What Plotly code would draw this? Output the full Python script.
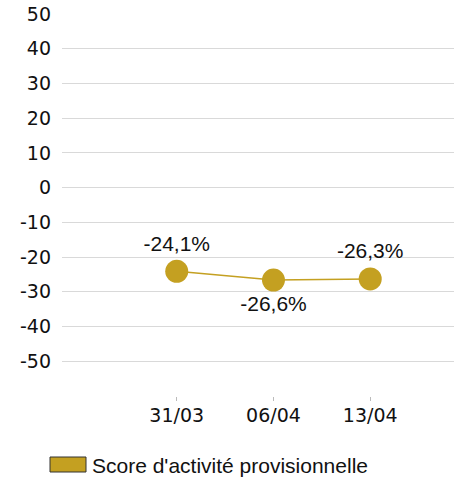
import plotly.graph_objects as go

categories = ["31/03", "06/04", "13/04"]
values = [-24.1, -26.6, -26.3]
labels = ["-24,1%", "-26,6%", "-26,3%"]
label_pos = ["top center", "bottom center", "top center"]
y_ticks = [50, 40, 30, 20, 10, 0, -10, -20, -30, -40, -50]
series_name = "Score d'activité provisionnelle"
color = "#C4A021"

fig = go.Figure()
fig.add_trace(go.Scatter(
    x=list(range(len(categories))), y=values,
    mode="lines+markers+text",
    text=labels, textposition=label_pos,
    textfont=dict(family="Liberation Sans, Arial", size=21, color="#111111"),
    marker=dict(size=23, color=color),
    line=dict(color=color, width=1.5),
    showlegend=False, cliponaxis=False, hoverinfo="skip",
))

fig.update_layout(
    width=454, height=479,
    margin=dict(l=62, r=0, t=14, b=83),
    paper_bgcolor="white", plot_bgcolor="white",
    font=dict(family="DejaVu Sans, Verdana", size=19, color="#111111"),
    xaxis=dict(
        range=[-1.186, 2.866],
        tickvals=list(range(len(categories))), ticktext=categories,
        showgrid=False, zeroline=False, showline=False,
        ticks="outside", ticklen=4, tickcolor="#bbbbbb", tickwidth=1,
        ticklabelstandoff=-2,
        tickfont=dict(family="DejaVu Sans, Verdana", size=19),
    ),
    yaxis=dict(
        range=[-60, 50],
        tickvals=y_ticks, ticktext=[str(v) for v in y_ticks],
        showgrid=True, gridcolor="#d9d9d9", gridwidth=1,
        zeroline=False, showline=False, ticks="",
        ticklabelstandoff=10,
        tickfont=dict(family="DejaVu Sans, Verdana", size=19),
    ),
    shapes=[dict(type="rect", xref="paper", yref="paper",
                 x0=(50 - 62) / 392, x1=(86 - 62) / 392,
                 y0=(479 - 83 - 472) / 382, y1=(479 - 83 - 457) / 382,
                 fillcolor=color, line=dict(color="#333333", width=1))],
    annotations=[dict(xref="paper", yref="paper",
                      x=(90 - 62) / 392, y=(479 - 83 - 465.5) / 382,
                      xanchor="left", yanchor="middle", showarrow=False,
                      text=series_name,
                      font=dict(family="Liberation Sans, Arial", size=21, color="#111111"))],
)

fig.write_html("out.html", config={"displayModeBar": False},
               post_script="document.body.style.margin='0px';")
